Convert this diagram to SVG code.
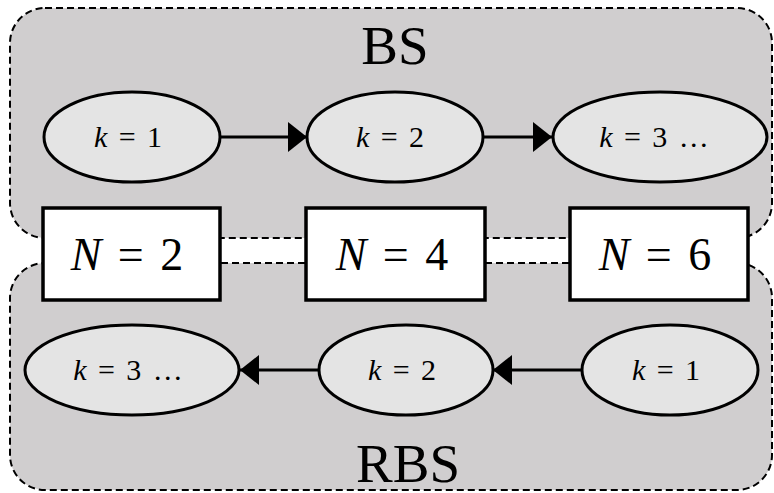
<svg xmlns="http://www.w3.org/2000/svg" width="774" height="493" viewBox="0 0 774 493">
<style>
.region{fill:#d0cecf;stroke:#000;stroke-width:2;stroke-dasharray:7 4}
.ell{fill:#e4e4e4;stroke:#000;stroke-width:3}
.box{fill:#fff;stroke:#000;stroke-width:3.5}
.edge{stroke:#000;stroke-width:3;fill:none}
.title{font-family:"Liberation Serif",serif;font-size:55px;fill:#000;text-anchor:middle}
.kl{font-family:"Liberation Serif",serif;font-size:30px;fill:#000;text-anchor:middle;word-spacing:4px}
.nl{font-family:"Liberation Serif",serif;font-size:46px;fill:#000;text-anchor:middle;word-spacing:5px}
.it{font-style:italic}
</style>
<defs>
<marker id="ah" markerWidth="19" markerHeight="30" refX="19" refY="15" orient="auto" markerUnits="userSpaceOnUse">
<path d="M0,0 L19,15 L0,30 Z" fill="#000"/>
</marker>
</defs>
<rect width="774" height="493" fill="#fff"/>
<g id="bs-region">
<rect class="region" x="10" y="8" width="762" height="230" rx="35" ry="35"/>
<text class="title" x="395" y="64">BS</text>
</g>
<g id="rbs-region">
<rect class="region" x="10" y="263" width="762" height="227" rx="35" ry="35"/>
<text class="title" x="408" y="482">RBS</text>
</g>
<g id="connectors">
<line class="edge" x1="220" y1="137" x2="307" y2="137" marker-end="url(#ah)"/>
<line class="edge" x1="483" y1="137" x2="552" y2="137" marker-end="url(#ah)"/>
<line class="edge" x1="582" y1="370" x2="493" y2="370" marker-end="url(#ah)"/>
<line class="edge" x1="320" y1="370" x2="240" y2="370" marker-end="url(#ah)"/>
</g>
<g id="bs-k1"><ellipse class="ell" cx="132" cy="137" rx="88" ry="45"/><text class="kl" x="128" y="147"><tspan class="it">k</tspan> = 1</text></g>
<g id="bs-k2"><ellipse class="ell" cx="395" cy="137" rx="88" ry="45"/><text class="kl" x="390" y="147"><tspan class="it">k</tspan> = 2</text></g>
<g id="bs-k3"><ellipse class="ell" cx="660" cy="137" rx="107" ry="45"/><text class="kl" x="654" y="147"><tspan class="it">k</tspan> = 3 …</text></g>
<g id="n2"><rect class="box" x="43" y="208" width="177" height="92"/><text class="nl" x="127" y="270"><tspan class="it">N</tspan> = 2</text></g>
<g id="n4"><rect class="box" x="306" y="208" width="179" height="92"/><text class="nl" x="392" y="270"><tspan class="it">N</tspan> = 4</text></g>
<g id="n6"><rect class="box" x="570" y="208" width="178" height="92"/><text class="nl" x="655" y="270"><tspan class="it">N</tspan> = 6</text></g>
<g id="rbs-k3"><ellipse class="ell" cx="132" cy="370" rx="107" ry="45"/><text class="kl" x="128" y="380"><tspan class="it">k</tspan> = 3 …</text></g>
<g id="rbs-k2"><ellipse class="ell" cx="406" cy="370" rx="87" ry="45"/><text class="kl" x="402" y="380"><tspan class="it">k</tspan> = 2</text></g>
<g id="rbs-k1"><ellipse class="ell" cx="670" cy="370" rx="88" ry="45"/><text class="kl" x="666" y="380"><tspan class="it">k</tspan> = 1</text></g>
</svg>
